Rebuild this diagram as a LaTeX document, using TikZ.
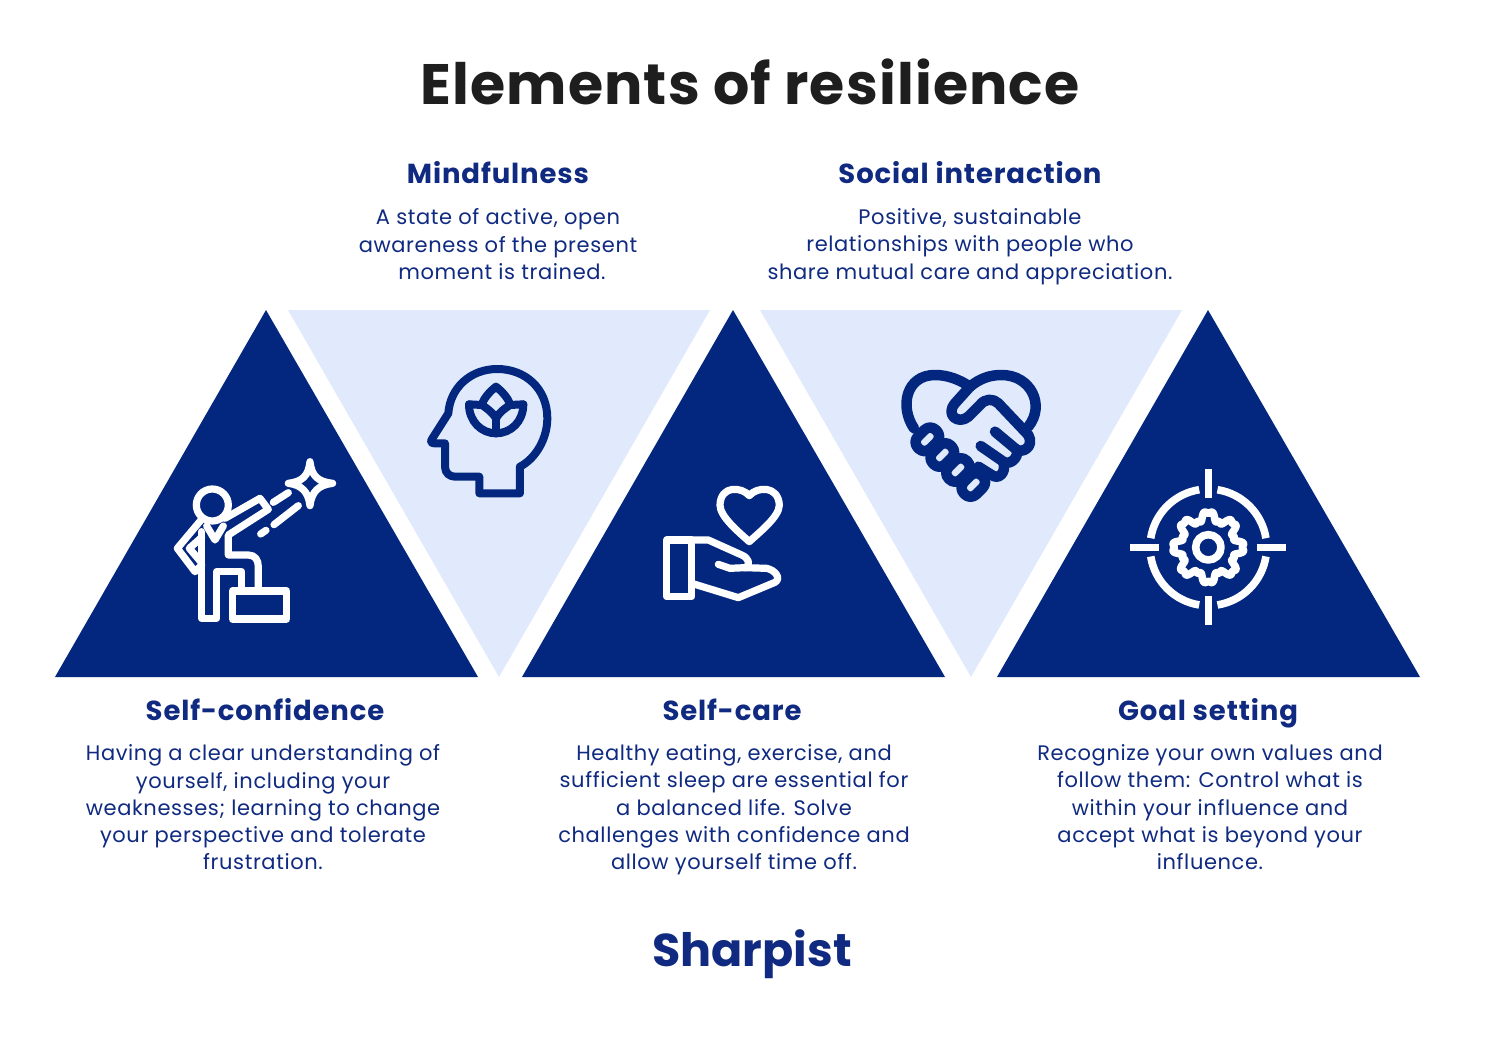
\documentclass[tikz,border=0pt]{standalone}
\usepackage{fontspec}
\setmainfont{Poppins}
\newfontfamily\bodyfont[LetterSpace=2.9]{Poppins}
\newfontfamily\headfont[LetterSpace=3.2]{Poppins}
\newfontfamily\titlefont[LetterSpace=2]{Poppins}
\newfontfamily\brandfont{Poppins}
\definecolor{navy}{HTML}{03277F}
\definecolor{pale}{HTML}{E0EAFC}
\definecolor{ink}{HTML}{0F2A80}
\definecolor{titleink}{HTML}{1E1E1E}
\tikzset{
  darktri/.style={fill=navy,draw=none},
  paletri/.style={fill=pale,draw=none},
  headtext/.style={text=ink,font=\headfont\fontsize{27.5}{30}\selectfont\bfseries,anchor=base,inner sep=0pt},
  bodytext/.style={text=ink,font=\bodyfont\fontsize{21}{27.3}\selectfont,align=center,anchor=north,inner sep=0pt},
  iconw/.style={draw=white,line width=7.2pt,line join=round,line cap=round},
  iconb/.style={draw=navy,line width=8pt,line join=round,line cap=round},
}
\begin{document}
\begin{tikzpicture}[x=1pt,y=-1pt]
\useasboundingbox (0,0) rectangle (1500,1039);
\fill[white] (0,0) rectangle (1500,1039);

% triangles
\fill[paletri] (288,310) -- (710,310) -- (499,677) -- cycle;
\fill[paletri] (760,310) -- (1182,310) -- (971,677) -- cycle;
\fill[darktri] (266,310) -- (478,677) -- (55,677) -- cycle;
\fill[darktri] (733,310) -- (945,677) -- (522,677) -- cycle;
\fill[darktri] (1208,310) -- (1420,677) -- (997,677) -- cycle;

% texts
\node[text=titleink,font=\titlefont\fontsize{57}{60}\selectfont\bfseries,anchor=base,inner sep=0pt] (title) at (750,104.5) {Elements of resilience};
\node[headtext] (h1) at (498,183) {Mindfulness};
\node[headtext] (h2) at (970,183) {Social interaction};
\node[headtext] (h3) at (265,720) {Self-confidence};
\node[headtext] (h4) at (732,720) {Self-care};
\node[headtext] (h5) at (1208,720) {Goal setting};
\node[bodytext] (b1) at (498,208.5) {A state of active, open\\awareness of the present\\\hspace*{8pt}moment is trained.};
\node[bodytext] (b2) at (970,208.5) {Positive, sustainable\\relationships with people who\\share mutual care and appreciation.};
\node[bodytext] (b3) at (263,744.5) {Having a clear understanding of\\yourself, including your\\weaknesses; learning to change\\your perspective and tolerate\\frustration.};
\node[bodytext] (b4) at (734,744.5) {Healthy eating, exercise, and\\sufficient sleep are essential for\\a balanced life. Solve\\challenges with confidence and\\allow yourself time off.};
\node[bodytext] (b5) at (1210,744.5) {Recognize your own values and\\follow them: Control what is\\within your influence and\\accept what is beyond your\\influence.};
\node[text=ink,font=\brandfont\fontsize{46}{50}\selectfont\bfseries,anchor=base,inner sep=0pt] (brand) at (752,966) {Sharpist};

% icon 1: self-confidence
\begin{scope}[shift={(160,450)},x=0.3333pt,y=-0.3333pt,iconw]
  \draw (157,165) circle (48);
  \draw (125,208) -- (52,295) -- (105,365) -- (125,345);
  \draw (125,262) -- (88,295) -- (122,335);
  \draw (125,245) -- (125,505) -- (170,505) -- (170,365) -- (245,365) -- (245,415);
  \draw (140,228) -- (165,270) -- (190,228);
  \draw (195,205) -- (300,145) -- (325,178) -- (205,255) -- (205,315) -- (265,315) .. controls (285,315) and (295,330) .. (295,350) -- (295,415);
  \draw (217,423) rectangle (380,507);
  \draw (450,35) .. controls (455,80) and (475,95) .. (518,100) .. controls (475,105) and (455,125) .. (450,167) .. controls (445,125) and (425,105) .. (385,100) .. controls (425,95) and (445,80) .. (450,35) -- cycle;
  \draw (340,157) -- (385,128);
  \draw (342,224) -- (415,167);
  \draw (302,252) -- (318,241);
\end{scope}

% icon 2: mindfulness
\begin{scope}[shift={(420,355)},x=0.3333pt,y=-0.3333pt,iconb]
  \draw (178,415) -- (300,415) -- (300,335) .. controls (348,310) and (382,250) .. (382,190) .. controls (382,100) and (315,42) .. (232,42) .. controls (150,42) and (90,100) .. (85,175) -- (36,252) .. controls (30,260) and (34,265) .. (44,265) -- (75,265) -- (75,335) .. controls (75,355) and (90,365) .. (105,365) -- (178,365) -- cycle;
  \draw (228,95) .. controls (250,112) and (268,135) .. (270,150) .. controls (255,160) and (240,170) .. (228,190) .. controls (216,170) and (200,160) .. (186,150) .. controls (188,135) and (206,112) .. (228,95) -- cycle;
  \draw (228,190) -- (228,235);
  \draw (147,148) -- (186,150);
  \draw (310,148) -- (270,150);
  \draw (147,148) .. controls (147,200) and (185,235) .. (228,235) .. controls (272,235) and (310,200) .. (310,148);
\end{scope}

% icon 3: self-care
\begin{scope}[shift={(650,475)},x=0.3333pt,y=-0.3333pt,iconw]
  \draw (298,62) .. controls (320,35) and (385,30) .. (388,90) .. controls (388,125) and (330,170) .. (298,200) .. controls (265,170) and (210,125) .. (210,90) .. controls (212,30) and (275,35) .. (298,62) -- cycle;
  \draw (50,195) rectangle (125,365);
  \draw (125,195) -- (175,195) -- (275,240) .. controls (295,248) and (305,270) .. (285,278) -- (240,280) -- (205,268);
  \draw (285,278) -- (350,280) .. controls (375,285) and (395,310) .. (375,322) -- (265,368) -- (125,325);
\end{scope}

% icon 4: social interaction
\begin{scope}[shift={(890,360)},x=0.3333pt,y=-0.3333pt]
  \begin{scope}[draw=navy,line width=10.5pt,line join=round,line cap=round]
  \draw (72,205) .. controls (28,140) and (48,45) .. (135,45) .. controls (175,45) and (210,60) .. (240,80) .. controls (270,55) and (300,45) .. (335,45) .. controls (422,45) and (467,135) .. (415,200);
  \draw (240,80) -- (195,130) .. controls (165,165) and (205,195) .. (235,170) -- (270,135) .. controls (285,115) and (310,115) .. (325,130) -- (415,225) .. controls (435,260) and (395,285) .. (375,265) -- (315,215);
  \draw (375,265) .. controls (395,280) and (365,320) .. (340,305) -- (272,258);
  \draw (340,305) .. controls (350,340) and (325,360) .. (305,345) -- (265,320);
  \foreach \px/\py in {112/238,157/285,204/330,250/375}
    \draw[shift={(\px,\py)},rotate=45,rounded corners=8pt] (-38,-26) rectangle (38,26);
  \end{scope}
\end{scope}

% icon 5: goal setting
\begin{scope}[shift={(1120,460)},x=0.3333pt,y=-0.3333pt]
  \begin{scope}[draw=white,line width=7.6pt,line cap=butt,line join=round]
  \coordinate (gc) at (265,262);
  \draw (265,28) -- (265,115);
  \draw (265,408) -- (265,495);
  \draw (30,262) -- (118,262);
  \draw (412,262) -- (498,262);
  \foreach \a in {0,90,180,270}
    \draw (gc) ++(\a+9:175) arc[start angle=\a+9,end angle=\a+81,radius=175];
  \draw (gc) circle (38);
  \draw[shift={(gc)},smooth,samples=321,domain=0:360,variable=\t] plot ({(93+14*(cos(8*\t)-cos(24*\t)/3))*cos(\t)},{(93+14*(cos(8*\t)-cos(24*\t)/3))*sin(\t)}) -- cycle;
  \end{scope}
\end{scope}
\end{tikzpicture}
\end{document}
